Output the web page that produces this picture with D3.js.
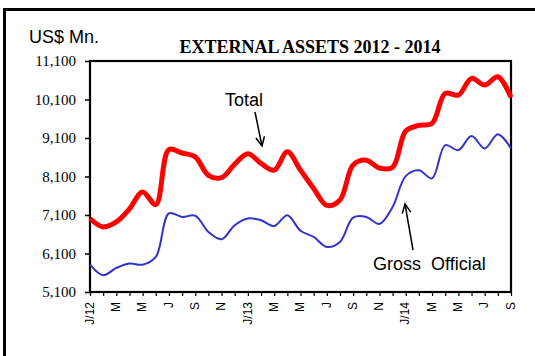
<!DOCTYPE html>
<html>
<head>
<meta charset="utf-8">
<script src="https://cdn.jsdelivr.net/npm/d3@7"></script>
<style>
  body { margin: 0; background: #fff; }
  svg { display: block; }
</style>
</head>
<body>
<script>
var width = 535;
var height = 356;
var margin = { top: 61, bottom: 64, right: 24, left: 90 };

// monthly points, Jan 2012 .. Sep 2014
var months = d3.range(33);
var totalAssets = [7010, 6790, 6920, 7260, 7700, 7370, 8800, 8710, 8610, 8130, 8070, 8420,
  8690, 8440, 8265, 8740, 8265, 7790, 7350, 7490, 8400, 8525, 8320, 8340,
  9280, 9430, 9480, 10260, 10215, 10650, 10475, 10690, 10155];
var grossOfficial = [5810, 5535, 5725, 5840, 5810, 6010, 7140, 7050, 7080, 6660, 6470, 6835,
  7010, 6965, 6815, 7095, 6690, 6530, 6270, 6400, 7030, 7050, 6870, 7310,
  8110, 8260, 8050, 8915, 8785, 9150, 8830, 9200, 8830];
var yTicks = [5100, 6100, 7100, 8100, 9100, 10100, 11100];
var xLabels = ["J/12", "M", "M", "J", "S", "N", "J/13", "M", "M", "J", "S", "N",
  "J/14", "M", "M", "J", "S"];

var svg = d3.select("body").append("svg")
  .attr("width", width)
  .attr("height", height);

// outer frame (top + left only visible)
svg.append("path")
  .attr("d", "M4.5,356 L4.5,9.5 L535,9.5")
  .attr("fill", "none")
  .attr("stroke", "#000")
  .attr("stroke-width", 3);

var xScale = d3.scaleLinear()
  .domain([0, 32])
  .range([margin.left, width - margin.right]);

var yScale = d3.scaleLinear()
  .domain([5100, 11100])
  .range([height - margin.bottom, margin.top]);

// plot frame
svg.append("rect")
  .attr("x", margin.left)
  .attr("y", margin.top)
  .attr("width", width - margin.left - margin.right)
  .attr("height", height - margin.top - margin.bottom)
  .attr("fill", "none")
  .attr("stroke", "#000")
  .attr("stroke-width", 2.2);

// y axis
var axisy = d3.axisLeft(yScale)
  .tickValues(yTicks)
  .tickSize(5)
  .tickPadding(9)
  .tickFormat(d3.format(","));
var gy = svg.append("g")
  .attr("transform", "translate(" + margin.left + ",0)")
  .call(axisy);
gy.select(".domain").remove();
gy.selectAll("line").attr("stroke", "#000").attr("stroke-width", 1.5);
gy.selectAll("text")
  .attr("font-family", "'Liberation Serif', 'Times New Roman', serif")
  .attr("font-size", "15px")
  .attr("fill", "#000");

// x axis: tick every month, label every 2 months
var axisx = d3.axisBottom(xScale)
  .tickValues(months)
  .tickSize(4)
  .tickFormat(function (d) {
    return d % 2 === 0 ? xLabels[d / 2] : "";
  });
var gx = svg.append("g")
  .attr("transform", "translate(0," + (height - margin.bottom) + ")")
  .call(axisx);
gx.select(".domain").remove();
gx.selectAll("line").attr("stroke", "#000").attr("stroke-width", 1.2);
gx.selectAll("text")
  .attr("font-family", "Arial, 'Liberation Sans', sans-serif")
  .attr("font-size", "12px")
  .attr("fill", "#000")
  .attr("text-anchor", "end")
  .attr("dy", "0.35em")
  .attr("transform", "translate(-1,0) rotate(-90)")
  .attr("x", -10)
  .attr("y", 0);

var line = d3.line()
  .x(function (d, i) { return xScale(i); })
  .y(function (d) { return yScale(d); })
  .curve(d3.curveCatmullRom.alpha(0.5));

svg.append("path")
  .datum(grossOfficial)
  .attr("fill", "none")
  .attr("stroke", "#3333cc")
  .attr("stroke-width", 2)
  .attr("d", line);

svg.append("path")
  .datum(totalAssets)
  .attr("fill", "none")
  .attr("stroke", "#ff0000")
  .attr("stroke-width", 5)
  .attr("stroke-linejoin", "round")
  .attr("d", line);

// texts
svg.append("text")
  .attr("x", 29)
  .attr("y", 43)
  .attr("font-family", "Arial, 'Liberation Sans', sans-serif")
  .attr("font-size", "18px")
  .text("US$ Mn.");

svg.append("text")
  .attr("x", 310)
  .attr("y", 53)
  .attr("text-anchor", "middle")
  .attr("font-family", "'Liberation Serif', 'Times New Roman', serif")
  .attr("font-weight", "bold")
  .attr("font-size", "18px")
  .text("EXTERNAL ASSETS 2012 - 2014");

svg.append("text")
  .attr("x", 225)
  .attr("y", 106)
  .attr("font-family", "Arial, 'Liberation Sans', sans-serif")
  .attr("font-size", "18px")
  .text("Total");

svg.append("text")
  .attr("x", 373)
  .attr("y", 270)
  .attr("font-family", "Arial, 'Liberation Sans', sans-serif")
  .attr("font-size", "18px")
  .attr("xml:space", "preserve")
  .style("white-space", "pre")
  .text("Gross  Official");

// arrows
function arrow(x1, y1, x2, y2) {
  var ang = Math.atan2(y2 - y1, x2 - x1);
  var len = 10, spread = 0.45;
  svg.append("line")
    .attr("x1", x1).attr("y1", y1).attr("x2", x2).attr("y2", y2)
    .attr("stroke", "#000").attr("stroke-width", 1.5);
  svg.append("path")
    .attr("d", "M" + (x2 - len * Math.cos(ang - spread)) + "," + (y2 - len * Math.sin(ang - spread)) +
      " L" + x2 + "," + y2 +
      " L" + (x2 - len * Math.cos(ang + spread)) + "," + (y2 - len * Math.sin(ang + spread)))
    .attr("fill", "none")
    .attr("stroke", "#000")
    .attr("stroke-width", 1.5);
}
arrow(255, 112, 262, 146);
arrow(413, 250, 405, 204);
</script>
</body>
</html>
